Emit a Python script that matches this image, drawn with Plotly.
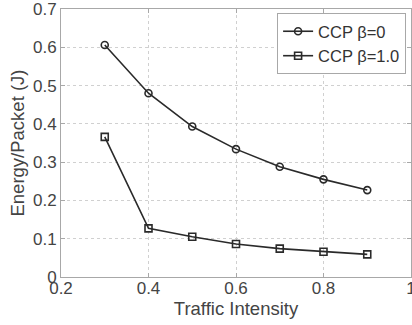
import plotly.graph_objects as go

traffic = [0.3, 0.4, 0.5, 0.6, 0.7, 0.8, 0.9]
ccp_beta0 = [0.606, 0.480, 0.393, 0.334, 0.288, 0.255, 0.227]
ccp_beta1 = [0.366, 0.127, 0.105, 0.086, 0.074, 0.066, 0.059]
series_names = ["CCP β=0", "CCP β=1.0"]
x_ticks = [0.2, 0.4, 0.6, 0.8, 1.0]
x_ticklabels = ["0.2", "0.4", "0.6", "0.8", "1"]
y_ticks = [0, 0.1, 0.2, 0.3, 0.4, 0.5, 0.6, 0.7]
y_ticklabels = ["0", "0.1", "0.2", "0.3", "0.4", "0.5", "0.6", "0.7"]

fig = go.Figure()
fig.add_trace(go.Scatter(
    x=traffic, y=ccp_beta0, name=series_names[0], mode="lines+markers",
    line=dict(color="#2a2a2a", width=1.6),
    marker=dict(symbol="circle-open", size=7, color="#2a2a2a", line=dict(width=1.6)),
))
fig.add_trace(go.Scatter(
    x=traffic, y=ccp_beta1, name=series_names[1], mode="lines+markers",
    line=dict(color="#2a2a2a", width=1.6),
    marker=dict(symbol="square-open", size=7, color="#2a2a2a", line=dict(width=1.6)),
))

axis_common = dict(
    showline=True, linecolor="#a8a8a8", linewidth=1, mirror="ticks",
    ticks="inside", ticklen=4, tickcolor="#a8a8a8",
    showgrid=True, gridcolor="#d0d0d0", griddash="dot", gridwidth=1,
    zeroline=False, ticklabeloverflow="allow", automargin=False,
    tickfont=dict(size=17, color="#444444"),
)

fig.update_xaxes(
    range=[0.2, 1.0], tickvals=x_ticks, ticktext=x_ticklabels,
    ticklabelstandoff=-4,
    title=dict(text="Traffic Intensity", font=dict(size=18.5, color="#444444"), standoff=0),
    **axis_common,
)
fig.update_yaxes(
    range=[0, 0.7], tickvals=y_ticks, ticktext=y_ticklabels,
    title=dict(text="Energy/Packet (J)", font=dict(size=18.5, color="#444444"), standoff=3),
    **axis_common,
)

fig.update_layout(
    width=412, height=325,
    margin=dict(l=61, r=1, t=9, b=48),
    paper_bgcolor="white", plot_bgcolor="white",
    font=dict(family="Liberation Sans, Arial, sans-serif", color="#444444"),
    showlegend=True,
    legend=dict(
        x=0.986, y=0.985, xanchor="right", yanchor="top",
        bordercolor="#a8a8a8", borderwidth=1, bgcolor="white",
        font=dict(size=16.5, color="#333333"),
        tracegroupgap=0, itemwidth=30,
    ),
)

fig.write_html("out.html")
